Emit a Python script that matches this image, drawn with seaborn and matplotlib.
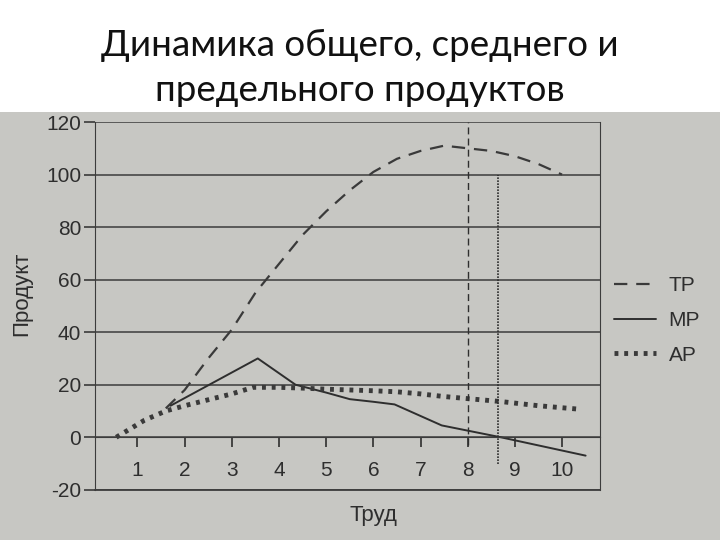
import numpy as np
import seaborn as sns
import matplotlib.pyplot as plt
from matplotlib.patches import Rectangle

# values (relative to the gridlines)
tp_x = [1.6, 2.0, 2.5, 3.0, 3.5, 4.0, 4.5, 5.0, 5.5, 6.0, 6.5, 7.0, 7.5, 8.0, 8.5, 9.0, 9.5, 10.0]
tp_y = [11, 18, 30, 41, 55, 66, 77, 86, 94, 101, 106, 109, 111, 110, 109, 107, 104, 100]

mp_x = [1.7, 3.55, 4.35, 5.0, 5.5, 6.0, 6.45, 7.45, 8.7, 10.5]
mp_y = [12, 30, 20, 17, 14.5, 13.5, 12.5, 4.5, 0, -7]

ap_x = [0.55, 1.15, 1.6, 2.0, 2.55, 3.0, 3.45, 4.0, 4.5, 5.0, 5.5, 6.0, 6.5, 7.0, 7.5, 8.0, 8.7, 9.5, 10.35]
ap_y = [0, 6.5, 10, 12, 14.5, 16.5, 19, 19, 18.7, 18.3, 18, 17.7, 17.3, 16.5, 15.5, 14.7, 13.6, 12, 10.7]

x_ticks = list(range(1, 11))
y_ticks = [-20, 0, 20, 40, 60, 80, 100, 120]

title = "Динамика общего, среднего и\nпредельного продуктов"
ink = "#2e2e2e"
paper = "#c7c7c3"


def main():
    sns.set_style("ticks")
    plt.rcParams["font.family"] = ["Liberation Sans", "DejaVu Sans"]
    plt.rcParams["axes.unicode_minus"] = False

    fig = plt.figure(figsize=(7.2, 5.4), dpi=100)
    fig.patch.set_facecolor("white")
    # grey photographed page under the title band
    fig.patches.append(Rectangle((0, 0), 1, 1 - 112 / 540, transform=fig.transFigure,
                                 facecolor=paper, edgecolor="none", zorder=-5))
    fig.text(0.5, 0.946, title, ha="center", va="top", fontsize=26.5,
             family=["Lato", "DejaVu Sans"], color="#111111", linespacing=1.45)

    ax = fig.add_axes([0.132, 0.093, 0.701, 0.681])
    ax.set_facecolor(paper)

    sns.lineplot(x=tp_x, y=tp_y, ax=ax, color="#3a3a3a", lw=1.6,
                 label="TP", sort=False)
    ax.lines[-1].set_dashes((6, 4))
    sns.lineplot(x=mp_x, y=mp_y, ax=ax, color=ink, lw=1.4, label="MP", sort=False)
    sns.lineplot(x=ap_x, y=ap_y, ax=ax, color="#3a3a3a", lw=3.5, label="AP", sort=False)
    ax.lines[-1].set_dashes((0.8, 1.2))

    # reference verticals
    ax.vlines(8, -3, 120, color=ink, lw=1, linestyles=(0, (5, 3)))
    ax.vlines(8.65, -10, 100, color=ink, lw=1.2, linestyles=(0, (1, 0.8)))

    ax.set_xlim(0.1, 10.8)
    ax.set_ylim(-20, 120)
    ax.set_yticks(y_ticks)
    ax.set_xticks(x_ticks)
    ax.yaxis.grid(True, color="#3c3c3c", lw=1.1)
    ax.axhline(-20, color="#3c3c3c", lw=1.3, clip_on=False)
    ax.spines["bottom"].set_position(("data", 0))
    ax.spines["bottom"].set_color("#3c3c3c")
    ax.spines["top"].set_visible(False)
    for side in ["left", "right"]:
        ax.spines[side].set_color("#3c3c3c")
    ax.tick_params(axis="x", direction="out", length=7, width=1.2, colors=ink,
                   labelsize=15, pad=10)
    ax.tick_params(axis="y", direction="out", length=8, width=1.1, colors=ink,
                   labelsize=15, pad=2)

    fig.text(0.518, 0.046, "Труд", ha="center", va="center", fontsize=16, color=ink)
    fig.text(0.03, 0.455, "Продукт", ha="center", va="center", fontsize=16,
             rotation=90, color=ink)

    ax.legend(loc="upper left", bbox_to_anchor=(1.0, 0.62), frameon=False,
              fontsize=15, handlelength=2.0, handletextpad=0.6,
              labelspacing=0.75, labelcolor=ink, borderpad=0.2)

    fig.savefig("out.png", dpi=100)


if __name__ == "__main__":
    main()
